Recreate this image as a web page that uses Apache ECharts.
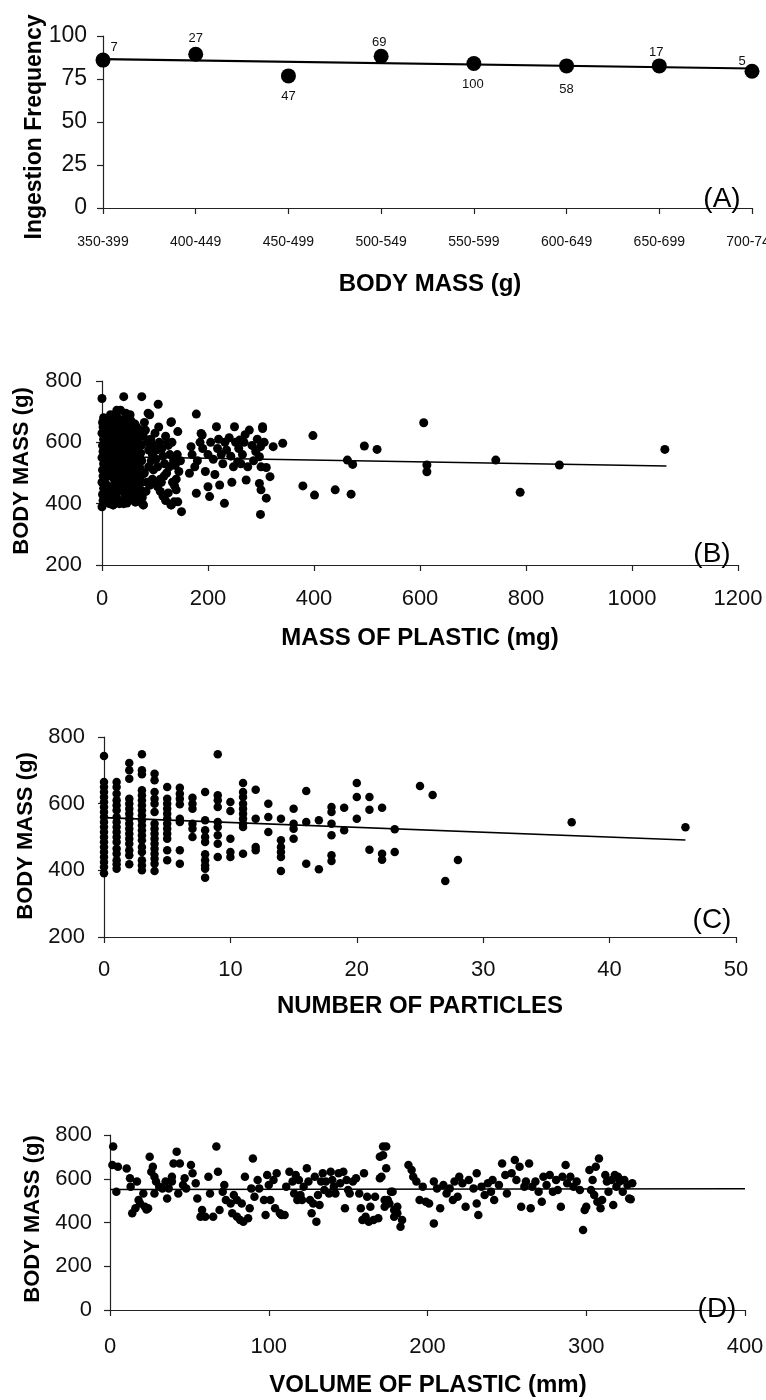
<!DOCTYPE html>
<html>
<head>
<meta charset="utf-8">
<script src="https://cdn.jsdelivr.net/npm/echarts@6/dist/echarts.min.js"></script>
<style>
html,body{margin:0;padding:0;background:#fff;}
#chart{width:766px;height:1400px;}
</style>
</head>
<body>
<div id="chart"></div>
<script>
// ---------- Panel A: ingestion frequency by body-mass class ----------
const bodyMassClassesA = ['350-399','400-449','450-499','500-549','550-599','600-649','650-699','700-749'];
const ingestionFreqA = [86, 89.4, 76.8, 88.2, 84, 82.6, 82.6, 79.5];
const sampleSizeA = [7, 27, 47, 69, 100, 58, 17, 5];
const trendA = [[0, 86.5], [7, 81.1]];
const ticksA = [0, 25, 50, 75, 100];

// ---------- Panel B: body mass vs mass of plastic (mg) ----------
const plasticMassB = [
 [0,743],[1,665],[2,650],[0,630],[3,610],[1,590],[2,570],[0,550],[3,530],[1,510],[2,490],[0,470],[3,450],[1,430],[2,410],[0,390],
 [5,660],[8,640],[10,615],[12,585],[6,560],[9,535],[4,510],[11,490],[7,465],[13,445],[5,425],[10,405],
 [15,670],[18,650],[20,625],[22,600],[17,575],[21,550],[16,525],[19,500],[23,480],[18,455],[24,430],[20,410],[21,396],
 [26,665],[28,640],[30,615],[27,590],[31,565],[29,540],[25,515],[32,492],[28,470],[30,445],[27,425],[33,400],
 [35,705],[36,660],[38,635],[40,610],[37,585],[41,560],[39,535],[36,510],[42,485],[38,460],[40,440],[43,420],[41,400],
 [45,690],[46,655],[48,628],[50,600],[47,578],[51,552],[49,528],[46,505],[52,480],[48,455],[50,432],[53,412],
 [55,670],[57,645],[58,618],[60,592],[56,568],[61,545],[59,520],[55,498],[62,475],[58,450],[60,428],[63,405],
 [65,650],[67,625],[69,600],[66,575],[70,552],[68,528],[64,505],[71,482],[67,458],[69,436],[72,410],
 [3,680],[6,645],[9,600],[12,560],[14,520],[4,480],[8,445],[13,420],[16,690],[19,610],[22,570],[25,545],
 [17,515],[24,465],[19,440],[14,400],[29,680],[33,630],[34,590],[26,555],[33,530],[30,505],[24,495],[34,465],
 [31,410],[39,672],[43,645],[44,600],[44,570],[34,545],[44,520],[40,495],[45,470],[37,445],[45,430],[47,402],
 [53,690],[52,640],[54,610],[54,560],[56,535],[52,515],[57,490],[54,465],[56,440],[57,420],[62,660],[64,630],
 [65,610],[64,585],[66,560],[63,535],[66,515],[65,490],[62,462],[64,440],[67,420],[72,640],[74,590],[73,565],
 [75,540],[72,515],[76,495],[74,470],[73,445],[76,400],[41,749],
 [75,749],[78,620],[80,665],[82,640],[85,600],[88,575],[90,690],[92,610],[95,560],[98,590],[100,630],[102,545],
 [105,520],[108,600],[110,480],[112,470],[115,555],[118,530],[120,620],[122,500],[125,590],[128,560],[130,665],
 [132,600],[135,540],[138,525],[140,480],[142,560],[145,505],[148,540],[80,500],[85,470],[90,460],[95,480],
 [100,470],[105,455],[110,440],[115,425],[120,410],[125,435],[130,396],[136,406],[140,445],[78,396],[76,420],
 [83,440],[88,520],[93,540],[97,510],[103,575],[107,650],[113,580],[117,490],[123,600],[127,520],[133,470],
 [106,724],[87,695],[45,695],[28,705],[78,396],[21,396],[150,374],[143,406],[131,396],[137,458],[131,667],[143,635],
 [165,499],[168,586],[178,692],[178,434],[187,629],[189,624],[200,455],[203,423],[216,651],[222,461],[231,401],
 [250,651],[256,537],[260,608],[272,477],[275,520],[278,640],[297,553],[297,466],[299,586],[299,365],[300,445],
 [303,651],[303,645],[310,518],[310,418],[317,488],[323,586],[341,597],
 [170,560],[175,520],[180,540],[185,600],[190,580],[195,505],[200,560],[205,600],[210,545],[213,495],[218,580],
 [220,610],[225,560],[228,530],[232,600],[235,575],[240,615],[243,555],[245,470],[248,520],[252,600],[258,580],
 [262,530],[265,560],[268,600],[270,625],[283,590],[286,540],[290,570],[293,610],[306,600],[300,520],
 [379,458],[398,622],[401,428],[440,445],[463,542],[470,431],[473,528],[495,588],[519,577],
 [607,664],[613,526],[613,504],[743,542],[789,437],[863,526],[1062,577]
];
const trendB = [[0, 554], [1065, 523]];

// ---------- Panel C: body mass vs number of particles ----------
const particlesC = [0,1,2,3,4,5,6,7,8,9,10,11,12,13,14,15,16,17,18,19,20,21,22,23,25,26,27,28,37,46];
const bodyMassByParticlesC = [
 [743,665,650,635,620,605,590,575,560,545,530,515,500,485,470,455,440,425,410,391],
 [665,650,630,610,595,580,560,545,530,515,500,485,465,450,430,418,405],
 [722,700,675,615,600,585,570,555,540,525,510,495,480,460,445,418],
 [748,700,688,640,625,610,595,580,565,550,535,520,505,490,470,455,430,415,400],
 [690,670,635,615,600,575,540,525,510,495,480,465,450,435,420,398],
 [650,615,600,585,570,555,540,525,510,495,460,430],
 [648,630,615,598,555,545,460,420],
 [618,600,585,540,525,500],
 [635,550,520,500,485,448,430,415,405,378],
 [748,625,610,590,545,530,505,480,440],
 [605,578,495,455,440],
 [662,635,620,600,585,570,555,540,530,450],
 [642,555,470,460],
 [600,560,515],
 [555,490,470,455,440,398],
 [585,540,525,495],
 [638,545,420],
 [550,403],
 [590,575,540,505,445,428],
 [588,520],
 [662,620,555],
 [620,582,462],
 [588,450,432],
 [523,455],
 [653],[626],[368],[431],[544],[529]
];
const trendC = [[0, 558], [46, 491]];

// ---------- Panel D: body mass vs volume of plastic ----------
const plasticVolumeD = [
 [2,747],[1.5,663],[5,655],[4,541],[10.5,647],[12.6,602],[13,564],[14,442],[16,465],[17,587],[18,503],[19,487],
 [21,533],[22,472],[23,460],[24,465],[25,701],[26,632],[27,655],[28,609],[28,533],[29,587],[31,564],[33,556],
 [35,587],[36,510],[37,556],[39,587],[39,609],[40,670],[42,724],[43,533],[44,670],[46,571],[47,602],[48,556],
 [51,663],[52,625],[54,579],[55,510],[57,426],[58,457],[60,426],[62,609],[63,533],[65,426],[67,747],[68,632],
 [69,457],[71,541],[72,571],[73,503],[76,487],[77,442],[78,526],[80,503],[80,426],[82,411],[83,487],[84,404],
 [85,609],[87,419],[88,465],[89,556],[90,693],[91,518],[93,594],[94,556],[97,503],[98,434],[99,617],[100,571],
 [101,503],[103,594],[104,465],[105,625],[107,442],[108,434],[110,434],[111,564],[113,632],[115,587],[116,533],
 [117,617],[118,503],[119,594],[120,526],[121,503],[122,564],[124,648],[125,587],[126,503],[127,442],[128,487],
 [129,609],[130,404],[131,526],[132,480],[133,587],[134,625],[135,549],[136,587],[138,533],[139,632],[140,594],
 [141,564],[142,533],[144,625],[145,579],[147,632],[148,465],[149,594],[150,549],[151,533],[153,587],[155,602],
 [157,533],[158,465],[159,411],[160,625],[161,426],[162,518],[163,404],[164,472],[166,411],[167,518],[169,419],
 [170,602],[170,701],[172,747],[173,472],[174,648],[175,503],[177,541],[179,426],[181,472],
 [172,708],[174,747],[171,609],[173,503],[176,487],[178,541],[179,457],[181,442],[183,381],[184,411],
 [188,663],[190,640],[191,609],[193,587],[195,503],[197,564],[199,495],[201,487],[204,587],[204,396],[206,556],
 [208,465],[210,571],[212,533],[214,556],[216,503],[217,587],[219,518],[220,609],[222,579],[224,472],[226,594],
 [229,556],[231,625],[231,487],[232,434],[234,564],[236,526],[238,579],[240,541],[241,594],[242,503],[245,571],
 [247,670],[249,617],[250,533],[253,625],[255,686],[256,594],[258,655],[259,472],[261,564],[262,587],[264,670],
 [265,465],[266,564],[268,587],[270,541],[272,495],[273,609],[275,571],[277,617],[279,541],[281,594],[282,549],
 [284,472],[285,609],[287,663],[288,579],[290,609],[292,564],[294,587],[296,549],[298,366],[299,457],[300,472],
 [302,640],[303,549],[304,594],[305,526],[306,655],[307,495],[308,693],[309,465],[310,503],[312,617],[313,587],
 [314,541],[316,594],[317,480],[318,617],[319,564],[320,609],[321,587],[323,541],[324,594],[326,571],[327,510],
 [328,506],[329,579]
];
const trendD = [[0, 551], [400, 554]];

// ---------- chart ----------
const FONT = '"Liberation Sans", Arial, Helvetica, sans-serif';
const INK = '#111';
const axisLineStyle = {color: '#222', width: 1.2};

function valueAxis(gridIndex, min, max, interval, fontSize, margin) {
  return {
    gridIndex, type: 'value', min, max, interval,
    axisLine: {show: true, onZero: false, lineStyle: axisLineStyle},
    axisTick: {show: true, length: 6, lineStyle: axisLineStyle},
    axisLabel: {fontSize, fontFamily: FONT, color: INK, margin, formatter: v => String(v)},
    splitLine: {show: false}
  };
}

const dataC = [];
particlesC.forEach((p, i) => bodyMassByParticlesC[i].forEach(m => dataC.push([p, m])));

const labelOffsetsA = [[11,-13],[0,-16],[0,21],[-2,-14],[-1,21],[0,23],[-3,-14],[-10,-10]];
const dataA = ingestionFreqA.map((v, i) => ({
  value: [i, v],
  label: {show: true, formatter: String(sampleSizeA[i]), position: 'inside', offset: labelOffsetsA[i],
          fontSize: 13, fontFamily: FONT, color: INK}
}));

function titleText(x, y, text, size, rotate) {
  const el = {type: 'text', x, y, z: 100,
    style: {text, font: 'bold ' + size + 'px ' + FONT, fill: '#000',
            textAlign: 'center', textVerticalAlign: 'middle', align: 'center', verticalAlign: 'middle'}};
  if (rotate) el.rotation = Math.PI / 2;
  return el;
}
function panelText(x, y, text) {
  return {type: 'text', x, y, z: 100,
    style: {text, font: '28px ' + FONT, fill: '#000',
            textAlign: 'center', textVerticalAlign: 'middle', align: 'center', verticalAlign: 'middle'}};
}

const scatterStyle = {color: '#000', opacity: 1};
const trendStyle = {color: '#000', width: 1.6};

const option = {
  animation: false,
  backgroundColor: '#fff',
  grid: [
    {left: 103, top: 36, width: 649, height: 172, outerBoundsMode: 'none', containLabel: false},
    {left: 102, top: 381, width: 636, height: 184, outerBoundsMode: 'none', containLabel: false},
    {left: 104, top: 737, width: 632, height: 200, outerBoundsMode: 'none', containLabel: false},
    {left: 110, top: 1135, width: 635, height: 175, outerBoundsMode: 'none', containLabel: false}
  ],
  xAxis: [
    {gridIndex: 0, type: 'category', data: bodyMassClassesA, boundaryGap: false,
     axisLine: {show: true, lineStyle: axisLineStyle},
     axisTick: {show: true, length: 6, alignWithLabel: true, lineStyle: axisLineStyle},
     axisLabel: {fontSize: 14, fontFamily: FONT, color: INK, margin: 27, interval: 0, hideOverlap: false},
     splitLine: {show: false}},
    valueAxis(1, 0, 1200, 200, 22, 23),
    valueAxis(2, 0, 50, 10, 22, 22),
    valueAxis(3, 0, 400, 100, 22, 26)
  ],
  yAxis: [
    valueAxis(0, ticksA[0], ticksA[ticksA.length - 1], 25, 23, 16),
    valueAxis(1, 200, 800, 200, 22, 20),
    valueAxis(2, 200, 800, 200, 22, 19),
    valueAxis(3, 0, 800, 200, 22, 18)
  ],
  series: [
    {type: 'scatter', xAxisIndex: 0, yAxisIndex: 0, data: dataA, symbolSize: 15, itemStyle: scatterStyle, z: 3},
    {type: 'line', xAxisIndex: 0, yAxisIndex: 0, data: trendA, symbol: 'none', lineStyle: {color: '#000', width: 2.2}, z: 2},
    {type: 'scatter', xAxisIndex: 1, yAxisIndex: 1, data: plasticMassB, symbolSize: 9, itemStyle: scatterStyle, z: 2},
    {type: 'line', xAxisIndex: 1, yAxisIndex: 1, data: trendB, symbol: 'none', lineStyle: trendStyle, z: 3},
    {type: 'scatter', xAxisIndex: 2, yAxisIndex: 2, data: dataC, symbolSize: 8.5, itemStyle: scatterStyle, z: 2},
    {type: 'line', xAxisIndex: 2, yAxisIndex: 2, data: trendC, symbol: 'none', lineStyle: trendStyle, z: 3},
    {type: 'scatter', xAxisIndex: 3, yAxisIndex: 3, data: plasticVolumeD, symbolSize: 8.5, itemStyle: scatterStyle, z: 2},
    {type: 'line', xAxisIndex: 3, yAxisIndex: 3, data: trendD, symbol: 'none', lineStyle: trendStyle, z: 3}
  ],
  graphic: [
    titleText(35, 127, 'Ingestion Frequency', 23, true),
    titleText(430, 284, 'BODY MASS (g)', 24, false),
    panelText(722, 199, '(A)'),
    titleText(22, 471, 'BODY MASS (g)', 22, true),
    titleText(420, 638, 'MASS OF PLASTIC (mg)', 24, false),
    panelText(712, 554, '(B)'),
    titleText(26, 836, 'BODY MASS (g)', 22, true),
    titleText(420, 1006, 'NUMBER OF PARTICLES', 24, false),
    panelText(712, 920, '(C)'),
    titleText(33, 1219, 'BODY MASS (g)', 22, true),
    titleText(428, 1385, 'VOLUME OF PLASTIC (mm)', 24, false),
    panelText(717, 1309, '(D)')
  ]
};

const chart = echarts.init(document.getElementById('chart'), null, {renderer: 'canvas'});
chart.setOption(option);
</script>
</body>
</html>
